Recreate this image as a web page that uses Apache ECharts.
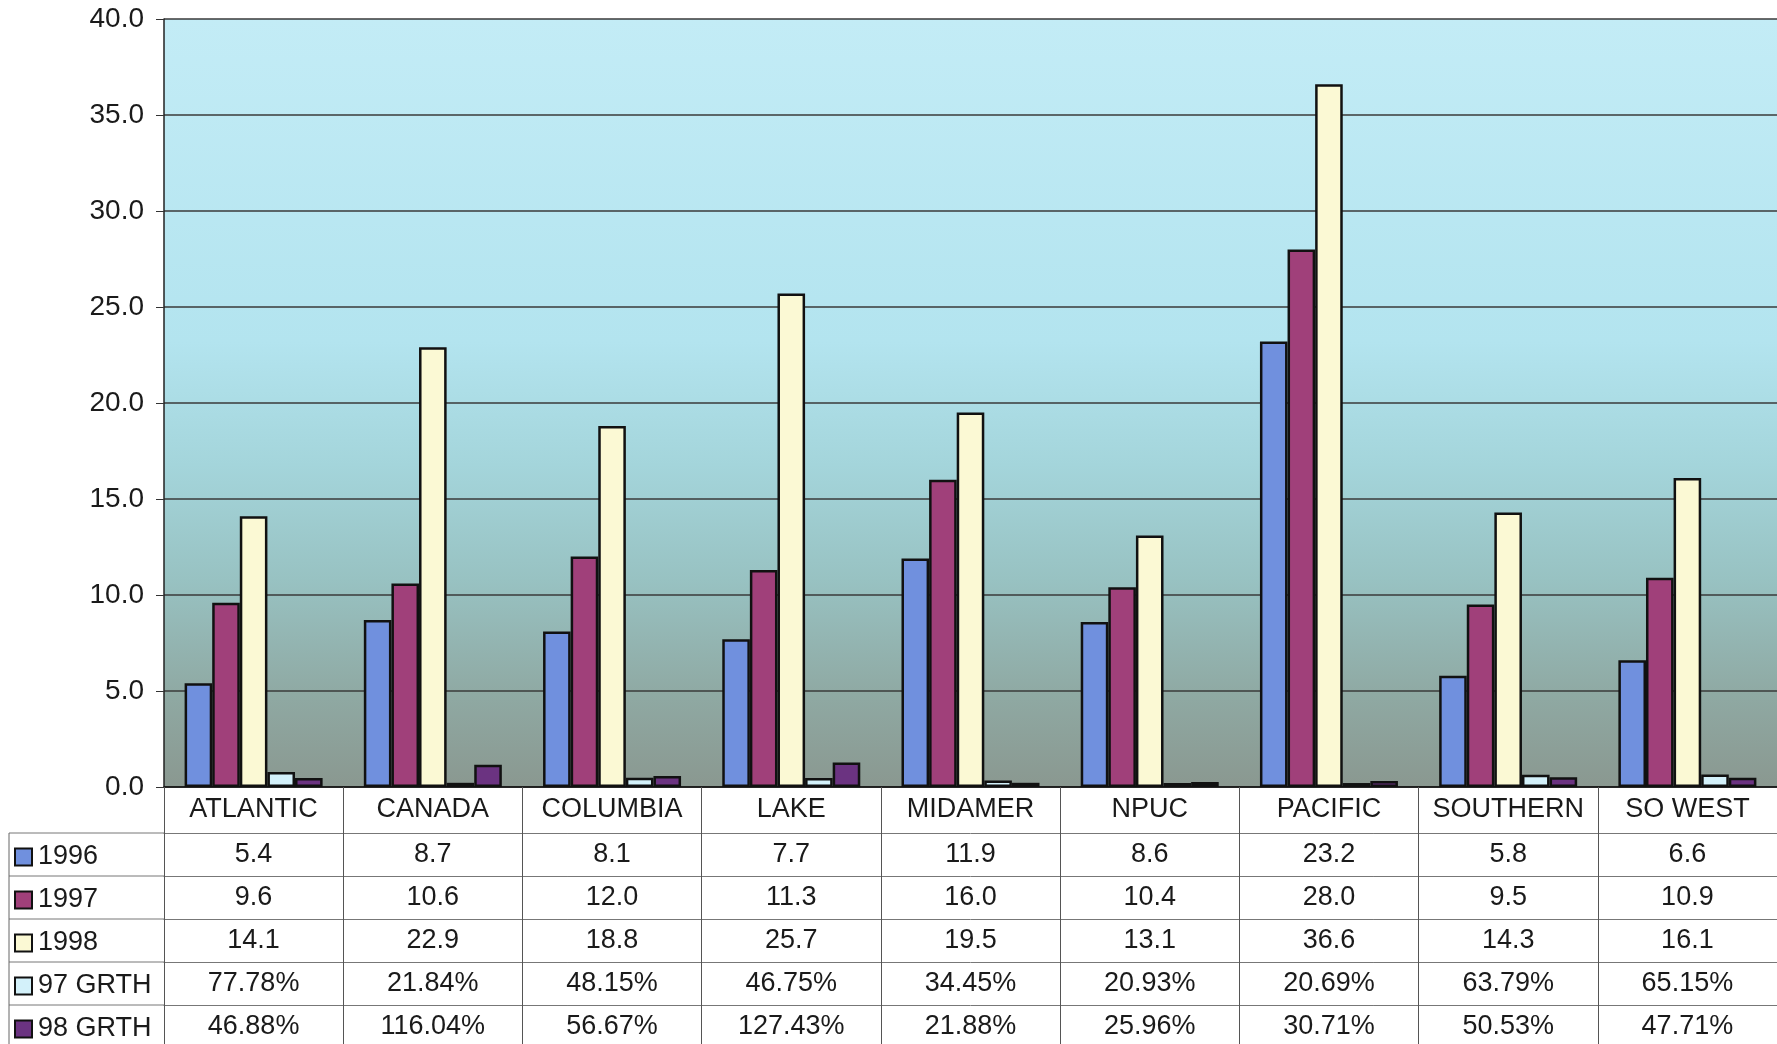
<!DOCTYPE html>
<html>
<head>
<meta charset="utf-8">
<script src="https://cdn.jsdelivr.net/npm/echarts@6/dist/echarts.min.js"></script>
<style>
html,body{margin:0;padding:0;background:#fff;}
#chart{width:1777px;height:1044px;}
</style>
</head>
<body>
<div id="chart"></div>
<script>
// ---- data ----
const categories = ['ATLANTIC','CANADA','COLUMBIA','LAKE','MIDAMER','NPUC','PACIFIC','SOUTHERN','SO WEST'];
const seriesNames = ['1996','1997','1998','97 GRTH','98 GRTH'];
const v1996 = [5.4, 8.7, 8.1, 7.7, 11.9, 8.6, 23.2, 5.8, 6.6];
const v1997 = [9.6, 10.6, 12.0, 11.3, 16.0, 10.4, 28.0, 9.5, 10.9];
const v1998 = [14.1, 22.9, 18.8, 25.7, 19.5, 13.1, 36.6, 14.3, 16.1];
const grth97 = [0.7778, 0.2184, 0.4815, 0.4675, 0.3445, 0.2093, 0.2069, 0.6379, 0.6515];
const grth98 = [0.4688, 1.1604, 0.5667, 1.2743, 0.2188, 0.2596, 0.3071, 0.5053, 0.4771];
const yMin = 0, yMax = 40, yStep = 5;

// ---- style / layout ----
const FONT = '"Liberation Sans", Arial, sans-serif';
const FS = 27;
const colors = ['#7090de', '#a0407a', '#fbf9d4', '#d3f1fa', '#6b3381'];
const gridLeft = 164, gridTop = 19, plotH = 768;
const headerH = 46, rowH = 43;
const bottomY = gridTop + plotH;

const seriesData = [v1996, v1997, v1998, grth97, grth98];
const rowFormat = [
  v => v.toFixed(1), v => v.toFixed(1), v => v.toFixed(1),
  v => (v * 100).toFixed(2) + '%', v => (v * 100).toFixed(2) + '%'
];

const chart = echarts.init(document.getElementById('chart'), null, {renderer: 'canvas'});

const xAxes = [{
  type: 'category', data: categories, gridIndex: 0, position: 'bottom',
  axisLine: {show: true, lineStyle: {color: '#111', width: 1.5}},
  axisTick: {show: true, interval: 0, length: headerH, lineStyle: {color: '#555', width: 1}},
  axisLabel: {interval: 0, fontSize: FS, fontFamily: FONT, color: '#1a1a1a', margin: 9},
  splitLine: {show: false}
}];
seriesNames.forEach((name, k) => {
  xAxes.push({
    type: 'category', data: categories, gridIndex: 0, position: 'bottom',
    offset: headerH + k * rowH,
    axisLine: {show: true, lineStyle: {color: '#777', width: 1}},
    axisTick: {show: true, interval: 0, length: rowH, lineStyle: {color: '#555', width: 1}},
    axisLabel: {
      interval: 0, fontSize: FS, fontFamily: FONT, color: '#1a1a1a', margin: 8,
      formatter: (val, idx) => rowFormat[k](seriesData[k][idx])
    },
    splitLine: {show: false}
  });
});

// legend column of the data table
const graphics = [];
seriesNames.forEach((name, k) => {
  const top = bottomY + headerH + k * rowH;
  const cy = top + rowH / 2 + 2;
  graphics.push({type: 'line', shape: {x1: 9, y1: top, x2: gridLeft, y2: top}, style: {stroke: '#777', lineWidth: 1}});
  graphics.push({type: 'rect', shape: {x: 15, y: cy - 8, width: 17, height: 17},
    style: {fill: colors[k], stroke: '#111', lineWidth: 2}});
  graphics.push({type: 'text', x: 38, y: cy, style: {text: name, fontSize: FS, fontFamily: FONT,
    fill: '#1a1a1a', verticalAlign: 'middle', textAlign: 'left'}});
});
graphics.push({type: 'line', shape: {x1: 9, y1: bottomY + headerH, x2: 9, y2: 1044}, style: {stroke: '#666', lineWidth: 1}});

chart.setOption({
  animation: false,
  backgroundColor: '#ffffff',
  grid: {
    left: gridLeft, top: gridTop, right: 0, height: plotH,
    show: true, borderWidth: 0,
    backgroundColor: new echarts.graphic.LinearGradient(0, 0, 0, 1, [
      {offset: 0, color: '#c3ecf6'},
      {offset: 0.42, color: '#b3e4ef'},
      {offset: 0.58, color: '#a4d5db'},
      {offset: 0.73, color: '#98c2c2'},
      {offset: 0.88, color: '#8fa9a3'},
      {offset: 1, color: '#8a9890'}
    ])
  },
  xAxis: xAxes,
  yAxis: {
    type: 'value', min: yMin, max: yMax, interval: yStep,
    axisLine: {show: true, lineStyle: {color: '#222', width: 1.5}},
    axisTick: {show: true, length: 8, lineStyle: {color: '#333'}},
    axisLabel: {fontSize: 28, fontFamily: FONT, color: '#1a1a1a', margin: 20,
      formatter: v => v.toFixed(1)},
    splitLine: {show: true, lineStyle: {color: '#3a3a3a', width: 1.5}}
  },
  series: seriesNames.map((name, k) => ({
    name: name, type: 'bar', xAxisIndex: 0, data: seriesData[k],
    barGap: '0%', barCategoryGap: '23%',
    itemStyle: {color: colors[k], borderColor: '#111', borderWidth: 2.5}
  })),
  graphic: graphics
});
</script>
</body>
</html>
